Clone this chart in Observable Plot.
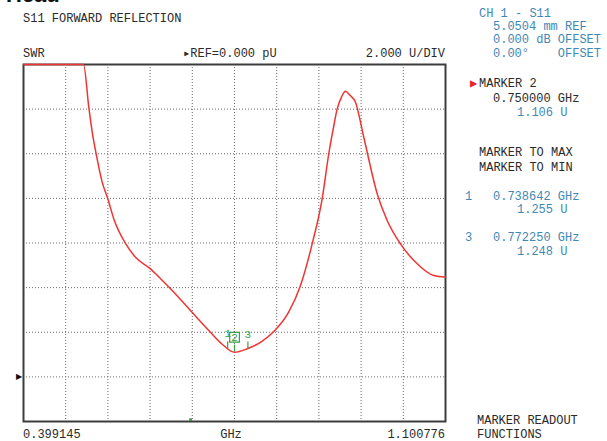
<!DOCTYPE html>
<html><head><meta charset="utf-8">
<script src="https://cdn.jsdelivr.net/npm/d3@7"></script>
<script src="https://cdn.jsdelivr.net/npm/@observablehq/plot@0.6"></script>
<style>
html,body{margin:0;padding:0;background:#fff;}
#wrap{position:relative;width:607px;height:441px;overflow:hidden;font-family:"Liberation Mono","DejaVu Sans Mono",monospace;font-size:12px;color:#2a2a2a;}
#wrap svg{position:absolute;left:0;top:0;}
.t{position:absolute;white-space:pre;line-height:12px;}
.b{color:#3f88b6;}
.r{color:#e8262b;}
.head{position:absolute;left:6px;top:-16px;font-family:"Liberation Sans",Arial,sans-serif;font-weight:bold;font-size:22px;line-height:22px;color:#111;}
</style></head>
<body><div id="wrap"></div>
<script>
// frequency span (GHz) and vertical scale (U)
const fStart = 0.399145, fStop = 1.100776;
const yBottom = -2, yTop = 14;
const xGrid = [0.399145,0.469308,0.539471,0.609634,0.679797,0.749960,0.820123,0.890286,0.960450,1.030613,1.100776];
const yGrid = [-2,0,2,4,6,8,10,12,14];

// S11 SWR trace
const freq = [0.3991,0.4989,0.5077,0.5134,0.5205,0.5300,0.5393,0.5493,0.5687,0.5854,0.6103,0.6270,0.6436,0.6768,0.7100,0.7300,0.7500,0.7711,0.7950,0.8153,0.8400,0.8597,0.8791,0.8957,0.9067,0.9140,0.9207,0.9280,0.9345,0.9420,0.9511,0.9649,0.9872,1.0038,1.0259,1.0537,1.0813,1.1008];
const swr  = [14.0,14.0,12.09,10.97,9.92,8.73,7.98,7.08,5.98,5.36,4.84,4.40,3.95,2.97,2.00,1.45,1.106,1.26,1.58,2.03,2.90,4.10,5.96,7.98,10.0,11.1,12.01,12.55,12.80,12.62,12.31,10.74,8.21,7.01,5.96,5.07,4.54,4.47];

// markers
const markerFreq = [0.738642, 0.750000, 0.772250];
const markerVal  = [1.255, 1.106, 1.248];
const markerLabel = ["1","2","3"];
const stimFreq = [0.677];

const trace = freq.map((f,i)=>({f, v: swr[i]}));
const markers = markerFreq.map((f,i)=>({f, v: markerVal[i], label: markerLabel[i]}));

const green = "#3aa040";
const plot = Plot.plot({
  width: 607, height: 441,
  marginLeft: 23, marginRight: 162, marginTop: 64, marginBottom: 20,
  x: {domain: [fStart, fStop], axis: null},
  y: {domain: [yBottom, yTop], axis: null},
  style: {background: "transparent", overflow: "visible"},
  marks: [
    Plot.ruleX(xGrid.slice(1,-1), {stroke: "#6a6a6a", strokeWidth: 1, strokeDasharray: "1,2"}),
    Plot.ruleY(yGrid.slice(1,-1), {stroke: "#6a6a6a", strokeWidth: 1, strokeDasharray: "1,2"}),
    Plot.frame({stroke: "#3c3c3c", strokeWidth: 2}),
    Plot.ruleX(stimFreq, {y1: yBottom, y2: yBottom + 0.12, stroke: green, strokeWidth: 3}),
    Plot.line(trace, {x: "f", y: "v", stroke: "#f03434", strokeWidth: 1.5, curve: "monotone-x"}),
    Plot.ruleX(markers, {x: "f", y1: "v", y2: d => d.v + 0.32, stroke: green, strokeWidth: 1.2}),
    Plot.dot(markers.filter(d => d.label === "2"), {x: "f", y: "v", dy: -15, symbol: "square", r: 5.5, stroke: green, strokeWidth: 1.2, fill: "none"}),
    Plot.text(markers, {x: "f", y: "v", dy: -15, text: "label", fill: green, fontSize: 11, fontFamily: "Liberation Mono, monospace"}),
    Plot.text([0], {y: d => d, frameAnchor: "left", dx: -2, text: () => "\u25B6", textAnchor: "end", fill: "#111", fontSize: 8})
  ]
});
const wrap = document.getElementById("wrap");
wrap.appendChild(plot);

// text blocks: [text, x, baselineY, class, anchor]
const texts = [
  ["S11 FORWARD REFLECTION", 23, 22, "", "l"],
  ["SWR", 23, 57, "", "l"],
  ["\u25B8REF=0.000 pU", 183, 57, "", "l"],
  ["2.000 U/DIV", 445, 57, "", "r"],
  ["CH 1 - S11", 479, 17, "b", "l"],
  ["5.0504 mm REF", 493, 30, "b", "l"],
  ["0.000 dB OFFSET", 493, 43, "b", "l"],
  ["0.00\u00B0    OFFSET", 493, 57, "b", "l"],
  ["\u25B6", 470, 87, "r", "l"],
  ["MARKER 2", 479, 87, "", "l"],
  ["0.750000 GHz", 493, 102, "", "l"],
  ["1.106 U", 517, 116, "b", "l"],
  ["MARKER TO MAX", 479, 156, "", "l"],
  ["MARKER TO MIN", 479, 171, "", "l"],
  ["1", 465, 200, "b", "l"],
  ["0.738642 GHz", 493, 200, "b", "l"],
  ["1.255 U", 517, 213, "b", "l"],
  ["3", 465, 241, "b", "l"],
  ["0.772250 GHz", 493, 241, "b", "l"],
  ["1.248 U", 517, 255, "b", "l"],
  ["0.399145", 23, 438, "", "l"],
  ["GHz", 231, 438, "", "c"],
  ["1.100776", 445, 438, "", "r"],
  ["MARKER READOUT", 477, 424, "", "l"],
  ["FUNCTIONS", 477, 438, "", "l"]
];
for (const [s, x, by, cls, a] of texts) {
  const d = document.createElement("div");
  d.className = "t " + cls;
  d.textContent = s;
  d.style.top = (by - 9.5) + "px";
  wrap.appendChild(d);
  const w = d.getBoundingClientRect().width;
  d.style.left = (a === "l" ? x : a === "r" ? x - w : x - w / 2) + "px";
}
const h = document.createElement("div");
h.className = "head"; h.textContent = "Head";
wrap.appendChild(h);
</script>
</body></html>
